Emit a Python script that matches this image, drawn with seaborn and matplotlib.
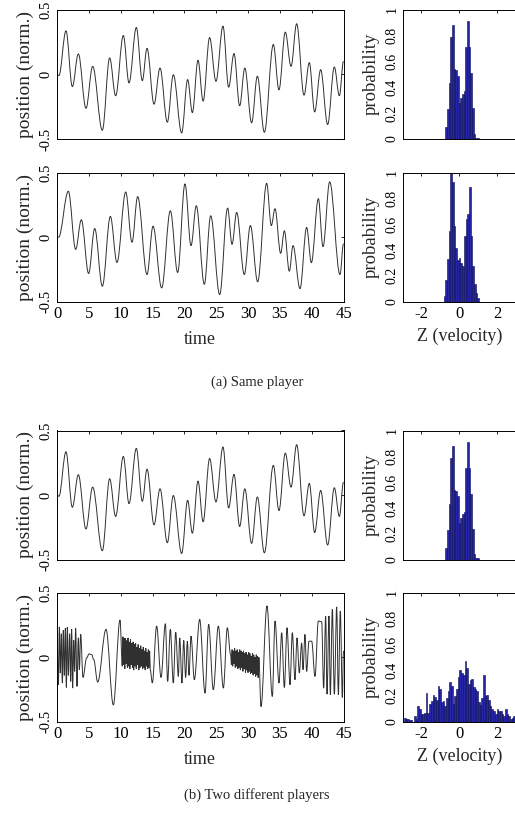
import numpy as np
import pandas as pd
import matplotlib
matplotlib.use("Agg")
import matplotlib.pyplot as plt
from matplotlib.path import Path
from matplotlib.patches import PathPatch
import seaborn as sns

# ---------------------------------------------------------------- data
# Turning points (time, normalised position) of each trajectory
pos_a_t = [0.0, 0.3, 1.41, 2.41, 3.35, 4.55, 5.6, 7.12, 8.27, 9.21, 10.42, 11.31,
           12.46, 13.4, 14.14, 15.24, 16.18, 17.33, 18.27, 19.58, 20.52, 21.26,
           22.15, 22.95, 23.97, 24.97, 26.07, 26.96, 27.8, 28.69, 29.5, 30.57,
           31.47, 32.57, 33.98, 34.86, 35.86, 36.76, 37.64, 38.8, 39.63, 40.47,
           41.41, 42.51, 43.56, 44.35, 45.0]
pos_a_v = [0.0, -0.01, 0.335, -0.095, 0.157, -0.263, 0.061, -0.432, 0.126, -0.166,
           0.299, -0.067, 0.361, -0.049, 0.2, -0.231, 0.048, -0.37, -0.004, -0.453,
           -0.041, -0.296, 0.108, -0.207, 0.283, -0.054, 0.372, -0.1, 0.16, -0.244,
           0.048, -0.375, -0.015, -0.448, 0.23, -0.121, 0.325, 0.061, 0.39, -0.161,
           0.09, -0.291, 0.035, -0.388, 0.056, -0.166, 0.1]

pos_b_t = [0.0, 0.25, 1.78, 2.93, 3.82, 4.97, 5.92, 7.12, 8.38, 9.42, 10.79, 11.78,
           12.67, 14.14, 15.08, 16.44, 17.8, 18.95, 20.1, 21.05, 21.88, 23.14,
           24.14, 25.55, 26.8, 27.49, 28.22, 29.42, 30.37, 31.52, 32.93, 33.66,
           34.24, 35.13, 35.71, 36.49, 37.07, 38.17, 39.21, 39.95, 41.05, 41.78,
           42.83, 44.45, 45.0]
pos_b_v = [0.0, 0.0, 0.358, -0.094, 0.136, -0.282, 0.068, -0.381, 0.162, -0.196,
           0.352, -0.039, 0.316, -0.29, 0.086, -0.394, 0.206, -0.274, 0.415, -0.065,
           0.245, -0.366, 0.167, -0.446, 0.227, -0.055, 0.193, -0.29, 0.091, -0.347,
           0.42, 0.091, 0.222, -0.125, 0.05, -0.264, -0.065, -0.4, 0.076, -0.198,
           0.3, -0.073, 0.431, -0.29, -0.05]

pos_c_t = [0.0, 0.21, 0.37, 0.52, 0.68, 0.84, 0.99, 1.15, 1.31, 1.47, 1.62, 1.78,
           1.99, 2.15, 2.3, 2.46, 2.62, 2.77, 2.93, 3.14, 3.35, 3.51, 3.72, 4.08,
           4.66, 5.03, 5.45, 5.76, 6.39, 7.7, 8.85, 9.9, 10.26,
           10.35, 10.45, 10.55, 10.65, 10.75, 10.85, 10.95, 11.05, 11.15, 11.25,
           11.35, 11.45, 11.55, 11.65, 11.75, 11.85, 11.95, 12.05, 12.15, 12.25,
           12.35, 12.45, 12.55, 12.65, 12.75, 12.85, 12.95, 13.05, 13.15, 13.25,
           13.35, 13.45, 13.55, 13.65, 13.75, 13.85, 13.95, 14.05, 14.15, 14.25,
           14.35, 14.45, 14.55, 14.65, 14.97,
           15.65, 16.34, 17.02, 17.38, 17.8, 18.27, 18.64, 19.06, 19.27, 19.63,
           19.9, 20.21, 20.47, 20.73, 21.05, 21.57, 22.41, 23.25, 23.82, 24.55,
           25.34, 26.13, 26.75, 27.28,
           27.4, 27.5, 27.6, 27.7, 27.8, 27.9, 28.0, 28.1, 28.2, 28.3, 28.4, 28.5,
           28.6, 28.7, 28.8, 28.9, 29.0, 29.1, 29.2, 29.3, 29.4, 29.5, 29.6, 29.7,
           29.8, 29.9, 30.0, 30.1, 30.2, 30.3, 30.4, 30.5, 30.6, 30.7, 30.8, 30.9,
           31.0, 31.1, 31.2, 31.3, 31.4, 31.5, 31.6, 31.7,
           32.04, 32.98, 33.82, 34.24, 34.87, 35.29, 35.71, 36.13, 36.6, 36.96,
           37.38, 37.7, 38.06, 38.43, 38.64, 38.95, 39.21, 39.58, 40.0, 40.52,
           41.05, 41.57, 41.88, 42.2, 42.41, 42.72, 42.93, 43.25, 43.56, 43.93,
           44.19, 44.5, 44.82, 45.0]
pos_c_v = [0.2, -0.214, 0.235, -0.123, 0.183, -0.201, 0.209, -0.141, 0.225, -0.235,
           0.235, -0.141, 0.183, -0.188, 0.217, -0.24, 0.131, -0.11, 0.225, -0.227,
           0.151, -0.097, 0.178, -0.157, -0.005, 0.026, 0.021, -0.018, -0.193,
           0.217, -0.371, 0.29, -0.07,
           0.16, -0.06, 0.15, -0.09, 0.15, -0.05, 0.13, -0.08, 0.15, -0.07,
           0.12, -0.09, 0.14, -0.06, 0.11, -0.08, 0.12, -0.1, 0.1, -0.07,
           0.11, -0.09, 0.08, -0.06, 0.1, -0.1, 0.07, -0.08, 0.09, -0.07,
           0.06, -0.09, 0.08, -0.08, 0.05, -0.1, 0.07, -0.07, 0.04, -0.09,
           0.06, -0.08, 0.05, -0.1, -0.2,
           0.243, -0.157, 0.261, -0.188, 0.217, -0.201, 0.196, -0.149, 0.151, -0.201,
           0.131, -0.157, 0.125, -0.141, 0.164, -0.175, 0.295, -0.279, 0.256, -0.253,
           0.243, -0.24, 0.23, 0.02,
           -0.06, 0.06, -0.07, 0.05, -0.05, 0.07, -0.08, 0.05, -0.07, 0.06, -0.09, 0.04,
           -0.08, 0.06, -0.1, 0.05, -0.08, 0.04, -0.11, 0.05, -0.09, 0.03, -0.12, 0.04,
           -0.1, 0.02, -0.12, 0.04, -0.11, 0.03, -0.13, 0.01, -0.12, 0.03, -0.14, 0.02,
           -0.13, 0.0, -0.15, 0.02, -0.14, 0.01, -0.16, 0.0,
           -0.384, 0.4, -0.305, 0.282, -0.201, 0.191, -0.235, 0.23, -0.214, 0.191,
           -0.175, 0.151, -0.123, 0.112, -0.097, 0.178, -0.11, 0.125, 0.125, -0.149,
           0.282, 0.277, -0.24, 0.321, -0.287, 0.321, -0.292, 0.373, -0.287, 0.392,
           -0.292, 0.36, -0.313, 0.05]

# Velocity histograms: first bin centre, bin width, bar heights
BIN_W = 0.089
hist_a_start = -0.70
hist_a = [0.09, 0.23, 0.43, 0.79, 0.88, 0.54, 0.53, 0.49, 0.28, 0.32, 0.35, 0.37,
          0.71, 0.91, 0.71, 0.51, 0.24, 0.04, 0.01, 0.01]
hist_b_start = -0.78
hist_b = [0.045, 0.17, 0.33, 0.55, 1.02, 0.93, 0.59, 0.42, 0.32, 0.34, 0.30, 0.28,
          0.51, 0.64, 0.68, 0.89, 0.51, 0.28, 0.14, 0.07, 0.03]
hist_c_start = -2.88
hist_c = [0.03, 0.02, 0.02, 0.01, 0.01, 0.0, 0.04, 0.02, 0.12, 0.10, 0.06, 0.06,
          0.07, 0.22, 0.07, 0.14, 0.16, 0.21, 0.19, 0.17, 0.28, 0.25, 0.15, 0.16,
          0.12, 0.18, 0.24, 0.31, 0.28, 0.14, 0.20, 0.25, 0.35, 0.40, 0.38, 0.36,
          0.47, 0.42, 0.29, 0.32, 0.33, 0.27, 0.25, 0.24, 0.15, 0.13, 0.18, 0.36,
          0.20, 0.21, 0.17, 0.12, 0.10, 0.08, 0.06, 0.10, 0.08, 0.08, 0.06, 0.04,
          0.10, 0.06, 0.04, 0.02, 0.03, 0.04, 0.02]

pos_ticks = [-0.5, 0, 0.5]
pos_tick_labels = ["-0.5", "0", "0.5"]
time_ticks = [0, 5, 10, 15, 20, 25, 30, 35, 40, 45]
prob_ticks = [0, 0.2, 0.4, 0.6, 0.8, 1]
prob_tick_labels = ["0", "0.2", "0.4", "0.6", "0.8", "1"]
z_ticks = [-2, 0, 2]

# ---------------------------------------------------------------- style
sns.set_theme(style="white")
plt.rcParams["font.family"] = ["Liberation Serif", "DejaVu Serif"]
plt.rcParams["axes.edgecolor"] = "black"
plt.rcParams["axes.linewidth"] = 0.7

W, H = 515, 814
fig = plt.figure(figsize=(W / 100, H / 100), dpi=100)


def px_axes(x0, y0, x1, y1):
    return fig.add_axes([x0 / W, 1 - y1 / H, (x1 - x0) / W, (y1 - y0) / H])


def style(ax, right_ticks=True):
    ax.tick_params(direction="in", top=True, right=right_ticks, length=2.5,
                   width=0.6, colors="black", pad=3)
    for s in ax.spines.values():
        s.set_visible(True)
        s.set_color("black")
        s.set_linewidth(0.7)


def smooth_trace(t, v):
    """Cubic segments with flat tangents at every turning point."""
    k = 1 - 2 / np.pi
    verts = [(t[0], v[0])]
    codes = [Path.MOVETO]
    for i in range(1, len(t)):
        dt = t[i] - t[i - 1]
        verts += [(t[i - 1] + k * dt, v[i - 1]), (t[i] - k * dt, v[i]), (t[i], v[i])]
        codes += [Path.CURVE4] * 3
    return Path(verts, codes)


def trajectory(ax, t, v, show_x):
    ax.add_patch(PathPatch(smooth_trace(t, v), fill=False, edgecolor="#303030",
                           linewidth=0.7, transform=ax.transData))
    ax.set_xlim(0, 45)
    ax.set_ylim(-0.5, 0.5)
    style(ax)
    ax.set_xticks(time_ticks)
    ax.set_yticks(pos_ticks)
    ax.set_yticklabels(pos_tick_labels, rotation=90, va="center", fontsize=10.5)
    ax.set_ylabel("position (norm.)", fontsize=14, labelpad=4)
    if show_x:
        ax.set_xticklabels([str(v) for v in time_ticks], fontsize=12)
        ax.set_xlabel("time", fontsize=13, labelpad=7)
    else:
        ax.set_xticklabels([])
        ax.set_xlabel("")


def velocity_hist(ax, start, heights, show_x):
    n = len(heights)
    centres = start + BIN_W * np.arange(n)
    lo = start - BIN_W / 2
    hi = lo + BIN_W * n
    df = pd.DataFrame({"z": centres, "p": heights})
    sns.histplot(data=df, x="z", weights="p", bins=n, binrange=(lo, hi), ax=ax,
                 color="#2626aa", edgecolor="#0b0b55", linewidth=0.4,
                 alpha=1.0, stat="count")
    ax.set_xlim(-3.0, 3.0)
    ax.set_ylim(0, 1)
    style(ax, right_ticks=False)
    ax.set_xticks(z_ticks)
    ax.set_yticks(prob_ticks)
    ax.set_yticklabels(prob_tick_labels, rotation=90, va="center", fontsize=10)
    ax.set_ylabel("probability", fontsize=13.5, labelpad=4)
    if show_x:
        ax.set_xticklabels([str(v) for v in z_ticks], fontsize=12)
        ax.set_xlabel("Z (velocity)", fontsize=13, labelpad=4)
    else:
        ax.set_xticklabels([])
        ax.set_xlabel("")


rows = [(9.5, 139.0), (173.0, 301.5), (430.5, 559.5), (593.0, 721.5)]
series = [(pos_a_t, pos_a_v, hist_a_start, hist_a),
          (pos_b_t, pos_b_v, hist_b_start, hist_b),
          (pos_a_t, pos_a_v, hist_a_start, hist_a),
          (pos_c_t, pos_c_v, hist_c_start, hist_c)]

for i, ((top, bot), (t, v, hs, hh)) in enumerate(zip(rows, series)):
    show_x = i in (1, 3)
    ax_l = px_axes(57, top, 343.5, bot)
    trajectory(ax_l, t, v, show_x)
    ax_r = px_axes(402.5, top, 516.0, bot)
    velocity_hist(ax_r, hs, hh, show_x)

fig.text(257 / W, 1 - 382 / H, "(a) Same player", ha="center", va="center",
         fontsize=10.5)
fig.text(257 / W, 1 - 795 / H, "(b) Two different players", ha="center",
         va="center", fontsize=10.5)

fig.savefig("out.png", dpi=100)
